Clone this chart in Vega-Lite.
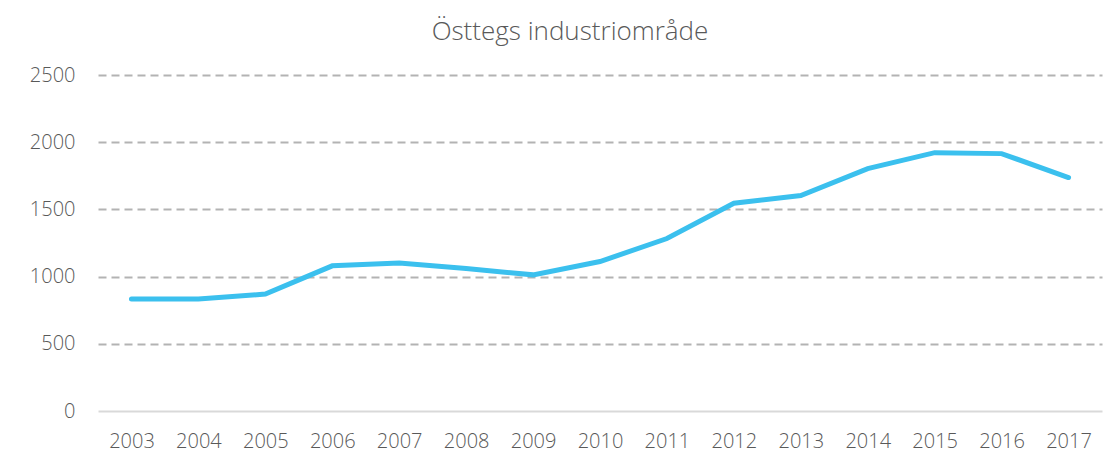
{
  "$schema": "https://vega.github.io/schema/vega-lite/v6.json",
  "width": 1004,
  "height": 336,
  "autosize": {"type": "none"},
  "padding": {"left": 98, "top": 75, "right": 2, "bottom": 43},
  "background": "white",
  "title": {
    "text": "Östtegs industriområde",
    "frame": "group",
    "anchor": "middle",
    "offset": 20,
    "dx": -30,
    "font": "Open Sans",
    "fontSize": 26,
    "fontWeight": 300,
    "color": "#595959"
  },
  "data": {
    "values": [
      {"year": "2003", "value": 834},
      {"year": "2004", "value": 834},
      {"year": "2005", "value": 870},
      {"year": "2006", "value": 1080},
      {"year": "2007", "value": 1102},
      {"year": "2008", "value": 1060},
      {"year": "2009", "value": 1013},
      {"year": "2010", "value": 1112},
      {"year": "2011", "value": 1283},
      {"year": "2012", "value": 1546},
      {"year": "2013", "value": 1603},
      {"year": "2014", "value": 1803},
      {"year": "2015", "value": 1922},
      {"year": "2016", "value": 1915},
      {"year": "2017", "value": 1737}
    ]
  },
  "mark": {"type": "line", "color": "#3BC0EE", "strokeWidth": 5, "strokeCap": "round", "strokeJoin": "miter"},
  "encoding": {
    "x": {
      "field": "year",
      "type": "ordinal",
      "scale": {"type": "point", "padding": 0.5},
      "axis": {
        "title": null,
        "labelAngle": 0,
        "ticks": false,
        "domain": false,
        "grid": false,
        "labelPadding": 20,
        "labelFont": "Open Sans",
        "labelFontSize": 20,
        "labelFontWeight": 300,
        "labelColor": "#595959"
      }
    },
    "y": {
      "field": "value",
      "type": "quantitative",
      "scale": {"domain": [0, 2500], "nice": false},
      "axis": {
        "title": null,
        "values": [0, 500, 1000, 1500, 2000, 2500],
        "format": "d",
        "ticks": false,
        "domain": false,
        "labelPadding": 23,
        "labelFont": "Open Sans",
        "labelFontSize": 20,
        "labelFontWeight": 300,
        "labelColor": "#595959",
        "gridColor": {"condition": {"test": "datum.value === 0", "value": "#d9d9d9"}, "value": "#b3b3b3"},
        "gridDash": {"condition": {"test": "datum.value === 0", "value": []}, "value": [8, 5]},
        "gridWidth": 2
      }
    }
  },
  "config": {"view": {"stroke": null}}
}
